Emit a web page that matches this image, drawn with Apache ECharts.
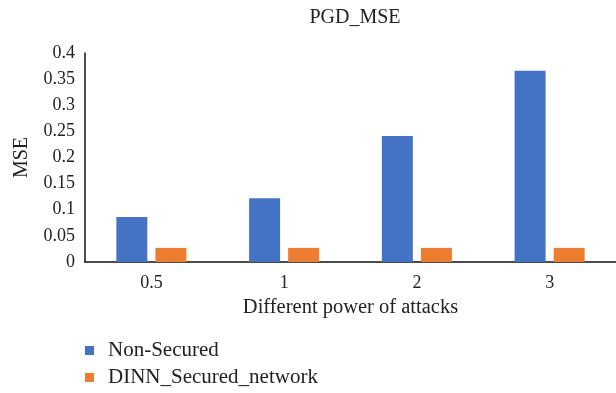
<!DOCTYPE html>
<html>
<head>
<meta charset="utf-8">
<script src="https://cdn.jsdelivr.net/npm/echarts@6/dist/echarts.min.js"></script>
<style>
  html, body { margin: 0; padding: 0; background: #fff; }
  #chart { width: 616px; height: 393px; }
</style>
</head>
<body>
<div id="chart"></div>
<script>
// Attack strengths on the x axis
const categories = ['0.5', '1', '2', '3'];
// MSE per attack strength
const nonSecured = [0.086, 0.122, 0.241, 0.366];
const dinnSecured = [0.027, 0.027, 0.027, 0.027];
const yTicks = [0, 0.05, 0.1, 0.15, 0.2, 0.25, 0.3, 0.35, 0.4];

const FONT = 'Liberation Serif';
const chart = echarts.init(document.getElementById('chart'), null, { renderer: 'canvas' });

chart.setOption({
  animation: false,
  backgroundColor: '#ffffff',
  textStyle: { fontFamily: FONT, color: '#222' },
  title: {
    text: 'PGD_MSE',
    left: 355,
    top: 8,
    textAlign: 'center',
    padding: 0,
    textStyle: { fontFamily: FONT, fontSize: 20, fontWeight: 'normal', color: '#222' }
  },
  legend: {
    orient: 'vertical',
    left: 85,
    top: 340,
    padding: 0,
    itemWidth: 9,
    itemHeight: 9,
    itemGap: 6,
    icon: 'rect',
    textStyle: { fontFamily: FONT, fontSize: 21, lineHeight: 21, color: '#222', padding: [0, 0, 0, 9] },
    data: ['Non-Secured', 'DINN_Secured_network']
  },
  grid: { left: 85, top: 53, width: 539, height: 209, containLabel: false },
  xAxis: {
    type: 'category',
    data: categories,
    name: 'Different power of attacks',
    nameLocation: 'middle',
    nameGap: 35,
    nameTextStyle: { fontFamily: FONT, fontSize: 20.5, color: '#222' },
    axisLine: { lineStyle: { color: '#111', width: 1.5 } },
    axisTick: { show: false },
    axisLabel: { fontFamily: FONT, fontSize: 18, color: '#222', margin: 12 }
  },
  yAxis: {
    type: 'value',
    min: 0,
    max: yTicks[yTicks.length - 1],
    interval: yTicks[1] - yTicks[0],
    name: 'MSE',
    nameLocation: 'middle',
    nameGap: 53,
    nameTextStyle: { fontFamily: FONT, fontSize: 20, color: '#222' },
    axisLine: { show: true, lineStyle: { color: '#111', width: 1.5 } },
    axisTick: { show: false },
    splitLine: { show: false },
    axisLabel: {
      fontFamily: FONT, fontSize: 18, color: '#222', margin: 10,
      formatter: v => String(+v.toFixed(2))
    }
  },
  series: [
    {
      name: 'Non-Secured',
      type: 'bar',
      data: nonSecured,
      barWidth: 31,
      barGap: '26%',
      itemStyle: { color: '#4472C4' }
    },
    {
      name: 'DINN_Secured_network',
      type: 'bar',
      data: dinnSecured,
      barWidth: 31,
      itemStyle: { color: '#ED7D31' }
    }
  ]
});
</script>
</body>
</html>
